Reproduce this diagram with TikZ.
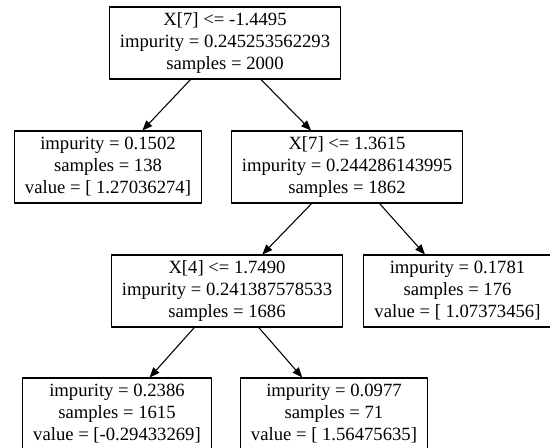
\documentclass[tikz,border=0pt]{standalone}
\usepackage{fontspec}
\setmainfont{Liberation Serif}
\usetikzlibrary{arrows.meta}

\begin{document}
\begin{tikzpicture}[x=0.75pt, y=-0.75pt, line join=round,
  treenode/.style={draw, line width=0.8pt, align=center, inner xsep=8pt, inner ysep=0pt,
    minimum height=54pt, font=\fontsize{14pt}{16.5pt}\selectfont},
  treeedge/.style={line width=0.8pt, -{Triangle[length=7.5pt, width=6pt]}}]
\useasboundingbox (0,0) rectangle (550,447);
\coordinate (P0) at (225,43);
\coordinate (P1) at (108,167);
\coordinate (P2) at (347,167);
\coordinate (P3) at (227,291);
\coordinate (P4) at (457.5,291);
\coordinate (P5) at (117,414);
\coordinate (P6) at (334,414);
\node[treenode] (root) at (P0) {X[7] <= -1.4495\\impurity = 0.245253562293\\samples = 2000};
\node[treenode] (leafa) at (P1) {impurity = 0.1502\\samples = 138\\value = [ 1.27036274]};
\node[treenode] (splitb) at (P2) {X[7] <= 1.3615\\impurity = 0.244286143995\\samples = 1862};
\node[treenode] (splitc) at (P3) {X[4] <= 1.7490\\impurity = 0.241387578533\\samples = 1686};
\node[treenode] (leafd) at (P4) {impurity = 0.1781\\samples = 176\\value = [ 1.07373456]};
\node[treenode] (leafe) at (P5) {impurity = 0.2386\\samples = 1615\\value = [-0.29433269]};
\node[treenode] (leaff) at (P6) {impurity = 0.0977\\samples = 71\\value = [ 1.56475635]};
\draw[treeedge] (root) -- (leafa);
\draw[treeedge] (root) -- (splitb);
\draw[treeedge] (splitb) -- (splitc);
\draw[treeedge] (splitb) -- (leafd);
\draw[treeedge] (splitc) -- (leafe);
\draw[treeedge] (splitc) -- (leaff);
\end{tikzpicture}
\end{document}
